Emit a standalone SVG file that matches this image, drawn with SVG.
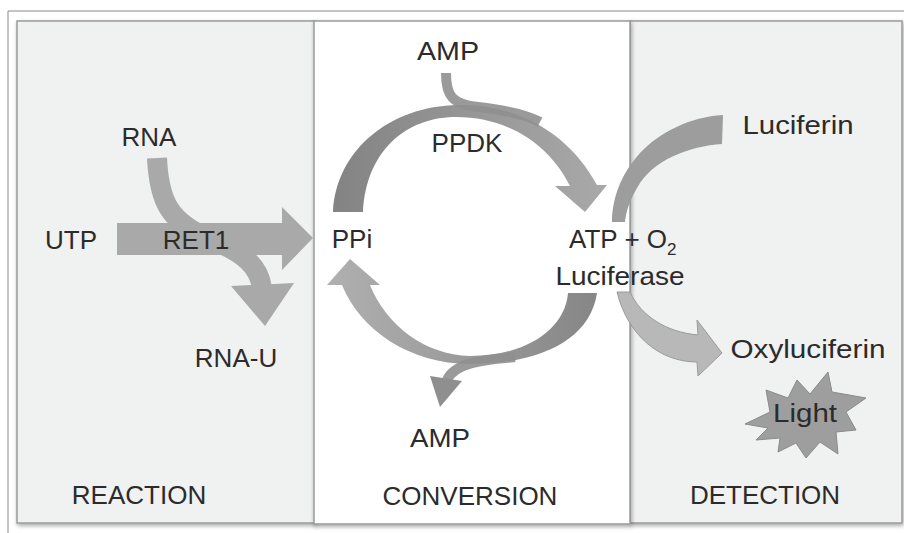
<svg xmlns="http://www.w3.org/2000/svg" width="904" height="533" viewBox="0 0 904 533">
  <defs>
    <style>
      .lbl { font-family: "Liberation Sans", Arial, sans-serif; font-size: 26px; fill: #2b2b2b; }
      .panel { stroke: #9a9a9a; stroke-width: 1.5; }
      .side { fill: #f0f1f1; }
      .mid { fill: #ffffff; }
      .arrow { fill: #a9a9a9; }
      .thin { fill: none; stroke: #8f8f8f; stroke-width: 10; }
    </style>
    <filter id="shadow" x="-5%" y="-5%" width="110%" height="110%">
      <feDropShadow dx="1" dy="2" stdDeviation="2" flood-color="#000" flood-opacity="0.35"/>
    </filter>
    <linearGradient id="gTop" gradientUnits="userSpaceOnUse" x1="333" y1="0" x2="607" y2="0">
      <stop offset="0" stop-color="#838383"/>
      <stop offset="1" stop-color="#a9a9a9"/>
    </linearGradient>
    <linearGradient id="gBot" gradientUnits="userSpaceOnUse" x1="597" y1="0" x2="327" y2="0">
      <stop offset="0" stop-color="#868686"/>
      <stop offset="1" stop-color="#b0b0b0"/>
    </linearGradient>
  </defs>

  <rect x="0" y="0" width="904" height="533" fill="#ffffff"/>
  <!-- outer frame -->
  <path d="M8,533 L8,11 L904,11" fill="none" stroke="#8a8a8a" stroke-width="1"/>

  <!-- panels -->
  <g id="panel-reaction">
    <rect class="panel side" x="17" y="21" width="298" height="502" filter="url(#shadow)"/>
    <text class="lbl" x="139" y="504" text-anchor="middle">REACTION</text>
  </g>
  <g id="panel-detection">
    <rect class="panel side" x="630" y="21" width="272" height="502" filter="url(#shadow)"/>
    <text class="lbl" x="765" y="504" text-anchor="middle">DETECTION</text>
  </g>
  <g id="panel-conversion">
    <rect class="panel mid" x="314" y="21" width="316" height="503" filter="url(#shadow)"/>
    <text class="lbl" x="470" y="505" text-anchor="middle">CONVERSION</text>
  </g>

  <!-- connectors -->
  <g id="connectors">
    <!-- RNA -> RNA-U -->
    <path d="M157,158 C159,200 168,222 212,240 C244,253 259,266 262,288" fill="none" stroke="#a9a9a9" stroke-width="20"/>
    <polygon class="arrow" points="231,286 294,283 265,326"/>
    <!-- UTP -> PPi (RET1) -->
    <polygon class="arrow" points="117,223 282,223 282,207 313,238 282,270 282,255 117,255"/>
    <!-- PPi -> ATP (PPDK) top arc -->
    <path d="M333,212 C336,150 390,106 458,105 C520,104 570,135 597,185 L607,185 L585,212 L555,186 L570,186 C548,142 505,117 456,117 C405,117 366,152 363,212 Z" fill="url(#gTop)"/>
    <!-- AMP in (top) -->
    <path class="thin" d="M446,73 C446,96 452,104 478,107 C505,110 525,114 540,122" stroke-opacity="0.9"/>
    <!-- ATP -> PPi bottom arc -->
    <path d="M597,293 C590,340 540,364 470,364 C410,364 360,330 342,285 L327,285 L350,259 L380,285 L370,285 C386,325 425,355 470,356 C525,356 565,330 568,293 Z" fill="url(#gBot)"/>
    <!-- AMP out (bottom) -->
    <path class="thin" d="M515,357 C485,360 455,362 447,380" stroke-opacity="0.9"/>
    <polygon points="430,376 462,381 440,407" fill="#8f8f8f"/>
    <!-- Luciferin -> ATP -->
    <path d="M723,115 L722,144 C690,146 652,160 637,188 C629,202 626,212 625,222 L612,222 C612,200 620,175 640,153 C660,132 690,117 723,115 Z" fill="#9d9d9d"/>
    <!-- Luciferase -> Oxyluciferin -->
    <path d="M617,292 L630,292 C641,316 666,332 698,335 L697,320 L722,353 L698,376 L697,362 C660,362 628,336 617,292 Z" fill="#b8b8b8" stroke="#9a9a9a" stroke-width="1"/>
  </g>

  <!-- nodes -->
  <g id="node-rna"><text class="lbl" x="149" y="146" text-anchor="middle">RNA</text></g>
  <g id="node-utp"><text class="lbl" x="71" y="249" text-anchor="middle">UTP</text></g>
  <g id="node-ret1"><text class="lbl" x="196" y="249" text-anchor="middle">RET1</text></g>
  <g id="node-rnau"><text class="lbl" x="236" y="367" text-anchor="middle">RNA-U</text></g>
  <g id="node-amp-top"><text class="lbl" x="448" y="60" text-anchor="middle" textLength="62" lengthAdjust="spacingAndGlyphs">AMP</text></g>
  <g id="node-ppdk"><text class="lbl" x="467" y="152" text-anchor="middle">PPDK</text></g>
  <g id="node-ppi"><text class="lbl" x="352" y="248" text-anchor="middle">PPi</text></g>
  <g id="node-atp"><text class="lbl" x="569" y="248">ATP + O<tspan font-size="17" dy="7">2</tspan></text></g>
  <g id="node-luciferase"><text class="lbl" x="620" y="285" text-anchor="middle" textLength="129" lengthAdjust="spacingAndGlyphs">Luciferase</text></g>
  <g id="node-amp-bottom"><text class="lbl" x="440" y="447" text-anchor="middle" textLength="60" lengthAdjust="spacingAndGlyphs">AMP</text></g>
  <g id="node-luciferin"><text class="lbl" x="798" y="134" text-anchor="middle" textLength="111" lengthAdjust="spacingAndGlyphs">Luciferin</text></g>
  <g id="node-oxyluciferin"><text class="lbl" x="808" y="358" text-anchor="middle" textLength="155" lengthAdjust="spacingAndGlyphs">Oxyluciferin</text></g>
  <g id="node-light">
    <path d="M745,424 L770,412 L766,390 L788,398 L797,380 L810,394 L828,372 L832,392 L866,398 L846,412 L856,430 L836,432 L838,454 L820,442 L806,458 L796,443 L778,452 L780,438 L756,440 L768,428 Z" fill="#9e9e9e" stroke="#8a8a8a" stroke-width="1"/>
    <text class="lbl" x="805" y="422" text-anchor="middle" textLength="64" lengthAdjust="spacingAndGlyphs">Light</text>
  </g>
</svg>
